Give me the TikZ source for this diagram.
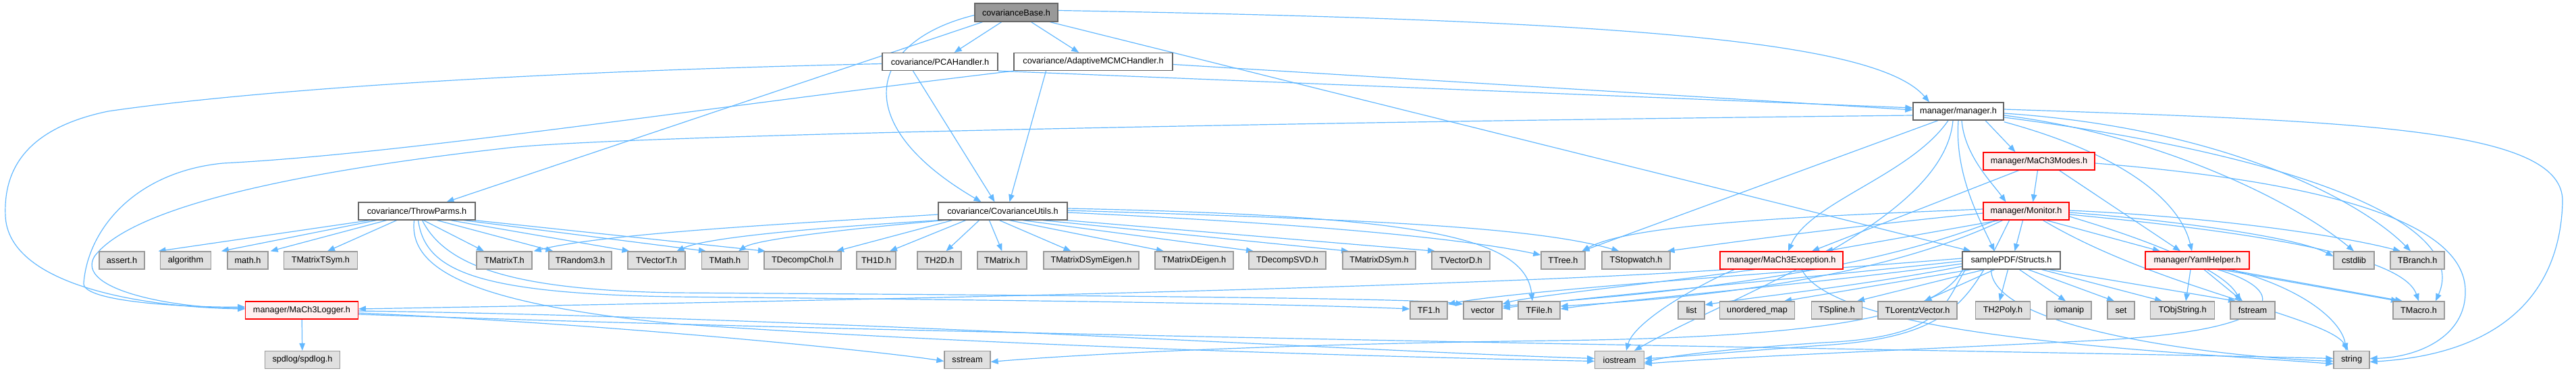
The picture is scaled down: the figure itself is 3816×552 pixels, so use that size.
\documentclass[tikz,border=0pt]{standalone}
\usepackage{fontspec}
\setmainfont{Liberation Sans}
\usetikzlibrary{arrows.meta}
\pgfdeclarelayer{bg}
\pgfsetlayers{bg,main}
\definecolor{edgec}{HTML}{63B8FF}
\definecolor{leaff}{HTML}{E0E0E0}
\definecolor{leafd}{HTML}{999999}
\definecolor{nodd}{HTML}{666666}
\definecolor{redd}{HTML}{FF0000}
\definecolor{redf}{HTML}{FFF0F0}
\definecolor{rootf}{HTML}{999999}
\newcommand{\nf}{\fontsize{12.7}{14}\selectfont}
\tikzset{
  base/.style={rectangle, minimum height=26pt, inner sep=0pt, line width=1.3pt, font=\nf, anchor=center},
  leaf/.style={base, draw=leafd, fill=leaff},
  wnode/.style={base, draw=nodd, fill=white},
  rnode/.style={base, draw=redd, fill=redf},
  root/.style={base, draw=nodd, fill=rootf, minimum height=27pt},
  e/.style={draw=edgec, line width=1.2pt, -{Triangle[length=11pt,width=8.5pt]}},
}
\begin{document}
\begin{tikzpicture}[x=1pt,y=-1pt]
\useasboundingbox (0,0) rectangle (3816,552);
% row 0
\node[root, minimum width=123] (cb) at (1505.5,18.5) {covarianceBase.h};
% row 1
\node[wnode, minimum width=171] (pca) at (1392.5,91.5) {covariance/PCAHandler.h};
\node[wnode, minimum width=235] (adapt) at (1619.5,91.5) {covariance/AdaptiveMCMCHandler.h};
% row 2
\node[wnode, minimum width=134] (man) at (2901,165) {manager/manager.h};
% row 3
\node[rnode, minimum width=165] (modes) at (3020.5,239) {manager/MaCh3Modes.h};
% row 4
\node[wnode, minimum width=173] (throw) at (617.5,313) {covariance/ThrowParms.h};
\node[wnode, minimum width=191] (covu) at (1485.5,313) {covariance/CovarianceUtils.h};
\node[rnode, minimum width=127] (mon) at (3001.5,313) {manager/Monitor.h};
% row 5
\node[leaf, minimum width=67] (assert) at (180.5,386) {assert.h};
\node[leaf, minimum width=74.5] (algo) at (275,386) {algorithm};
\node[leaf, minimum width=60] (math) at (367,386) {math.h};
\node[leaf, minimum width=108.5] (tmts) at (475,386) {TMatrixTSym.h};
\node[leaf, minimum width=82] (tmt) at (747,386) {TMatrixT.h};
\node[leaf, minimum width=93] (trand) at (859.5,386) {TRandom3.h};
\node[leaf, minimum width=85] (tvt) at (972.5,386) {TVectorT.h};
\node[leaf, minimum width=68.5] (tmath) at (1074,386) {TMath.h};
\node[leaf, minimum width=114] (tchol) at (1189,386) {TDecompChol.h};
\node[leaf, minimum width=58] (th1) at (1298,386) {TH1D.h};
\node[leaf, minimum width=65] (th2) at (1391.5,386) {TH2D.h};
\node[leaf, minimum width=73] (tmx) at (1484.5,386) {TMatrix.h};
\node[leaf, minimum width=141] (tdse) at (1616.5,386) {TMatrixDSymEigen.h};
\node[leaf, minimum width=116] (tde) at (1769,386) {TMatrixDEigen.h};
\node[leaf, minimum width=114] (tsvd) at (1907,386) {TDecompSVD.h};
\node[leaf, minimum width=108] (tds) at (2043,386) {TMatrixDSym.h};
\node[leaf, minimum width=86] (tvd) at (2164,386) {TVectorD.h};
\node[leaf, minimum width=65] (ttree) at (2315.5,386) {TTree.h};
\node[leaf, minimum width=101] (tsw) at (2423.5,386) {TStopwatch.h};
\node[rnode, minimum width=182] (exc) at (2639,386) {manager/MaCh3Exception.h};
\node[wnode, minimum width=145] (str) at (2979.5,386) {samplePDF/Structs.h};
\node[rnode, minimum width=154] (yaml) at (3255,386) {manager/YamlHelper.h};
\node[leaf, minimum width=60] (cstd) at (3487,386) {cstdlib};
\node[leaf, minimum width=80] (tbr) at (3581,386) {TBranch.h};
% row 6
\node[rnode, minimum width=166.5] (log) at (447,460) {manager/MaCh3Logger.h};
\node[leaf, minimum width=55] (tf1) at (2116.5,460) {TF1.h};
\node[leaf, minimum width=57] (vec) at (2196.5,460) {vector};
\node[leaf, minimum width=62] (tfile) at (2280,460) {TFile.h};
\node[leaf, minimum width=39] (list) at (2505.5,460) {list};
\node[leaf, minimum width=110.5] (umap) at (2603,460) {unordered\_map};
\node[leaf, minimum width=75] (tspl) at (2721,460) {TSpline.h};
\node[leaf, minimum width=117] (tlv) at (2840.5,460) {TLorentzVector.h};
\node[leaf, minimum width=80.5] (th2p) at (2967,460) {TH2Poly.h};
\node[leaf, minimum width=66] (ioman) at (3065,460) {iomanip};
\node[leaf, minimum width=40] (set) at (3142,460) {set};
\node[leaf, minimum width=94.5] (tobj) at (3233,460) {TObjString.h};
\node[leaf, minimum width=66] (fstr) at (3337,460) {fstream};
\node[leaf, minimum width=76] (tmac) at (3583,460) {TMacro.h};
% row 7
\node[leaf, minimum width=111.5] (spd) at (448,533.5) {spdlog/spdlog.h};
\node[leaf, minimum width=68] (sstr) at (1433,533.5) {sstream};
\node[leaf, minimum width=72.5] (ios) at (2399,533.5) {iostream};
\node[leaf, minimum width=53] (strg) at (3483.5,533.5) {string};

\begin{pgfonlayer}{bg}
% covarianceBase
\draw[e] (cb) -- (pca);
\draw[e] (cb) -- (adapt);
\draw[e] ([xshift=-50]cb.south) -- ([xshift=44]throw.north);
\draw[e] ([yshift=-4]cb.west) .. controls (1290,60) and (1250,180) .. ([xshift=-32]covu.north);
\draw[e] ([xshift=50]cb.south) -- ([xshift=-60]str.north);
\draw[e] ([yshift=3]cb.east) .. controls (2400,30) and (2780,60) .. ([xshift=-43]man.north);
% PCA
\draw[e] ([xshift=-40]pca.south) -- ([xshift=-12]covu.north);
\draw[e] (pca.south east) -- ([yshift=5]man.west);
\draw[e] ([yshift=-3]pca.west) .. controls (700,108) and (330,140) .. (160,165) .. controls (40,190) and (5,250) .. (8,320) .. controls (12,420) and (200,455) .. ([yshift=2]log.west);
% Adaptive
\draw[e] ([xshift=-70]adapt.south) -- ([xshift=10]covu.north);
\draw[e] ([yshift=-4]adapt.east) -- ([yshift=2]man.west);
\draw[e] (adapt.south west) .. controls (1000,165) and (600,228) .. (330,242) .. controls (200,255) and (130,340) .. (124,420) .. controls (122,448) and (280,456) .. ([yshift=5]log.west);
% manager
\draw[e] ([yshift=-6]man.west) .. controls (2000,180) and (900,200) .. (746,220) .. controls (480,250) and (200,300) .. (140,380) .. controls (110,430) and (260,457) .. ([yshift=3]log.west);
\draw[e] ([xshift=40]man.south) -- ([xshift=-35]modes.north);
\draw[e] ([xshift=5]man.south) .. controls (2910,230) and (2950,270) .. ([xshift=-30]mon.north);
\draw[e] ([xshift=0]man.south) .. controls (2895,260) and (2935,330) .. ([xshift=-25]str.north);
\draw[e] ([xshift=-15]man.south) .. controls (2830,260) and (2680,300) .. ([xshift=10]exc.north);
\draw[e] ([xshift=-30]man.south) -- ([xshift=28]ttree.north);
\draw[e] ([xshift=-8]man.south) .. controls (2880,330) and (2560,440) .. ([xshift=22]ios.north);
\draw[e] ([yshift=-2]man.south east) .. controls (3150,230) and (3230,300) .. ([xshift=-8]yaml.north);
\draw[e] ([yshift=-6]man.east) .. controls (3200,200) and (3400,300) .. (cstd.north);
\draw[e] ([yshift=-3]man.east) .. controls (3300,190) and (3500,300) .. ([xshift=-10]tbr.north);
\draw[e] ([yshift=-9]man.east) .. controls (3400,230) and (3660,330) .. ([xshift=25]tmac.north);
\draw[e] ([yshift=3]man.east) .. controls (3500,180) and (3800,190) .. (3796,300) .. controls (3792,440) and (3700,525) .. ([yshift=-3]strg.east);
% MaCh3Modes
\draw[e] (modes) -- ([xshift=10]mon.north);
\draw[e] ([xshift=-30]modes.south) -- ([xshift=45]exc.north);
\draw[e] ([xshift=30]modes.south) -- ([xshift=-25]yaml.north);
\draw[e] ([yshift=-3]modes.east) .. controls (3450,270) and (3650,330) .. (3652,430) .. controls (3654,500) and (3580,530) .. ([yshift=2]strg.east);
% Monitor
\draw[e] ([yshift=3]mon.west) .. controls (2700,320) and (2420,330) .. ([xshift=28]ttree.north);
\draw[e] ([yshift=-3]mon.west) .. controls (2700,340) and (2560,360) .. ([xshift=-5]tsw.north east);
\draw[e] ([xshift=-40]mon.south) -- ([xshift=65]exc.north);
\draw[e] ([xshift=-5]mon.south) -- ([xshift=5]str.north);
\draw[e] ([xshift=30]mon.south) -- ([xshift=-55]yaml.north);
\draw[e] ([yshift=-2]mon.east) .. controls (3200,325) and (3400,350) .. ([yshift=6]cstd.west);
\draw[e] ([yshift=1]mon.east) .. controls (3250,320) and (3450,345) .. ([xshift=-25]tbr.north);
\draw[e] ([yshift=-5]mon.east) .. controls (3350,345) and (3560,380) .. ([xshift=0]tmac.north);
\draw[e] ([yshift=-8]mon.east) .. controls (3230,370) and (3300,410) .. ([xshift=-18]fstr.north);
\draw[e] ([xshift=25]mon.south) .. controls (3200,430) and (3450,470) .. ([xshift=-5]strg.north);
\draw[e] ([xshift=-45]mon.south) .. controls (2720,420) and (2380,440) .. ([yshift=6]vec.east);
\draw[e] ([xshift=-35]mon.south) .. controls (2760,425) and (2450,445) .. ([yshift=6]tfile.east);
\draw[e] ([xshift=-25]mon.south) .. controls (2920,440) and (2900,500) .. (2700,512) .. controls (2560,522) and (2480,530) .. ([yshift=2]ios.east);
% ThrowParms
\draw[e] ([xshift=-70]throw.south) -- ([xshift=20]assert.north east);
\draw[e] ([xshift=-60]throw.south) -- ([xshift=15]algo.north east);
\draw[e] ([xshift=-45]throw.south) -- ([xshift=3]math.north east);
\draw[e] ([xshift=-30]throw.south) -- ([xshift=10]tmts.north);
\draw[e] ([xshift=10]throw.south) -- ([xshift=-30]tmt.north);
\draw[e] ([xshift=30]throw.south) -- ([xshift=-40]trand.north);
\draw[e] ([xshift=50]throw.south) -- ([xshift=-40]tvt.north);
\draw[e] ([xshift=70]throw.south) -- ([xshift=-28]tmath.north);
\draw[e] ([xshift=86]throw.south) -- ([xshift=-55]tchol.north);
\draw[e] ([xshift=-4]throw.south) .. controls (605,400) and (700,450) .. (1000,480) .. controls (1500,515) and (2100,530) .. ([yshift=-2]ios.west);
\draw[e] ([xshift=2]throw.south) .. controls (630,400) and (700,435) .. (1000,440) .. controls (1500,445) and (1900,450) .. ([yshift=2]tf1.west);
\draw[e] ([xshift=8]throw.south) .. controls (660,395) and (760,430) .. (1000,434) .. controls (1600,438) and (2100,442) .. ([yshift=9]vec.west);
% CovarianceUtils
\draw[e] ([yshift=-5]covu.west) .. controls (1200,330) and (900,345) .. ([xshift=2]tmt.north east);
\draw[e] ([xshift=-95]covu.south) .. controls (1250,335) and (1050,350) .. ([xshift=30]tvt.north);
\draw[e] ([xshift=-88]covu.south) .. controls (1250,340) and (1120,355) .. ([xshift=20]tmath.north);
\draw[e] ([xshift=-75]covu.south) -- ([xshift=50]tchol.north);
\draw[e] ([xshift=-55]covu.south) -- ([xshift=20]th1.north);
\draw[e] ([xshift=-35]covu.south) -- ([xshift=10]th2.north);
\draw[e] ([xshift=-20]covu.south) -- ([xshift=0]tmx.north);
\draw[e] ([xshift=-5]covu.south) -- ([xshift=-30]tdse.north);
\draw[e] ([xshift=10]covu.south) -- ([xshift=-45]tde.north);
\draw[e] ([xshift=30]covu.south) -- ([xshift=-50]tsvd.north);
\draw[e] ([xshift=60]covu.south) -- ([xshift=-45]tds.north);
\draw[e] ([xshift=95]covu.south) -- ([xshift=-38]tvd.north);
\draw[e] ([yshift=-2]covu.east) .. controls (1900,330) and (2150,350) .. ([yshift=8]ttree.west);
\draw[e] ([yshift=1]covu.east) .. controls (2000,325) and (2270,335) .. ([xshift=-25]tsw.north);
\draw[e] ([yshift=4]covu.east) .. controls (2100,320) and (2260,350) .. ([xshift=-10]tfile.north);
% MaCh3Exception
\draw[e] ([xshift=10]exc.south west) .. controls (2100,430) and (1000,450) .. ([yshift=2]log.east);
\draw[e] ([xshift=-70]exc.south) .. controls (2500,430) and (2420,480) .. ([xshift=10]ios.north);
\draw[e] ([xshift=-40]exc.south) .. controls (2450,420) and (2260,440) .. ([yshift=9]vec.east);
\draw[e] ([xshift=30]exc.south) .. controls (2720,500) and (3200,520) .. ([yshift=-6]strg.west);
% Structs
\draw[e] ([yshift=3]str.west) .. controls (2700,400) and (2250,430) .. ([yshift=9]tf1.east);
\draw[e] ([yshift=-1]str.west) .. controls (2700,410) and (2350,440) .. ([yshift=3]vec.east);
\draw[e] ([yshift=-5]str.west) .. controls (2700,420) and (2400,445) .. ([yshift=2]tfile.east);
\draw[e] ([yshift=-9]str.west) .. controls (2750,425) and (2600,440) .. ([yshift=8]list.east);
\draw[e] ([xshift=-60]str.south) -- ([xshift=40]umap.north);
\draw[e] ([xshift=-40]str.south) -- ([xshift=30]tspl.north);
\draw[e] ([xshift=-25]str.south) -- ([xshift=10]tlv.north);
\draw[e] ([xshift=-5]str.south) -- ([xshift=-5]th2p.north);
\draw[e] ([xshift=12]str.south) -- ([xshift=-5]ioman.north);
\draw[e] ([xshift=25]str.south) -- ([xshift=-10]set.north);
\draw[e] ([xshift=45]str.south) -- ([xshift=-30]tobj.north);
\draw[e] ([xshift=55]str.south) -- ([xshift=-25]fstr.north);
\draw[e] ([xshift=-68]str.south) .. controls (2880,450) and (2880,500) .. (2700,508) .. controls (2550,518) and (2470,528) .. ([yshift=-4]ios.east);
\draw[e] ([xshift=-72]str.south) .. controls (2870,470) and (2700,500) .. (2300,505) .. controls (1900,510) and (1600,525) .. ([yshift=-3]sstr.east);
\draw[e] ([xshift=-30]str.south) .. controls (2950,490) and (3300,530) .. ([yshift=-2]strg.west);
% YamlHelper
\draw[e] ([xshift=-10]yaml.south) -- ([xshift=5]tobj.north);
\draw[e] ([xshift=10]yaml.south) -- ([xshift=-15]fstr.north);
\draw[e] ([xshift=35]yaml.south) -- ([xshift=-30]tmac.north);
\draw[e] ([xshift=45]yaml.south) -- ([xshift=-24]tmac.north);
\draw[e] ([xshift=30]yaml.south) .. controls (3390,430) and (3400,490) .. (3100,505) .. controls (2800,520) and (2550,530) .. ([yshift=-6]ios.east);
\draw[e] ([xshift=50]yaml.south) .. controls (3420,430) and (3470,480) .. ([xshift=-8]strg.north);
% MaCh3Logger
\draw[e] (log) -- (spd);
\draw[e] ([yshift=-4]log.east) .. controls (900,480) and (1300,520) .. ([yshift=-2]sstr.west);
\draw[e] ([yshift=-1]log.east) .. controls (1200,470) and (2000,520) .. ([yshift=2]ios.west);
\draw[e] ([yshift=-6]log.east) .. controls (1500,500) and (3000,520) .. ([yshift=2]strg.west);
\end{pgfonlayer}
\end{tikzpicture}
\end{document}
